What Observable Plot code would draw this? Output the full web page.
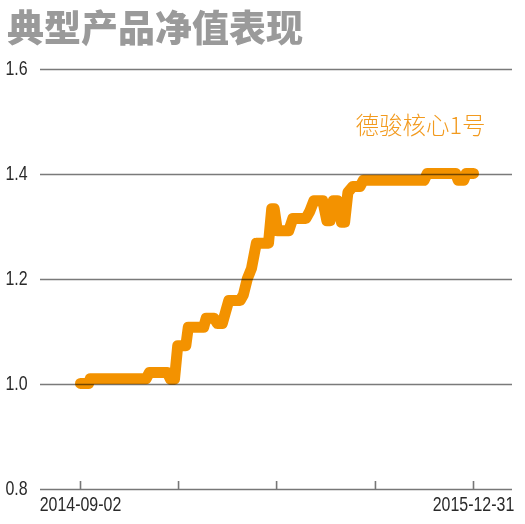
<!DOCTYPE html>
<html><head><meta charset="utf-8">
<script src="https://cdn.jsdelivr.net/npm/d3@7"></script>
<script src="https://cdn.jsdelivr.net/npm/@observablehq/plot@0.6"></script>
<style>
body{margin:0;background:#fff;}
#title{height:48px;padding-top:2px;padding-left:7px;font:900 37px/48px "Noto Sans CJK SC",sans-serif;color:#9a9a9a;white-space:nowrap;}
#chart svg{display:block;}
</style></head><body>
<div id="title"></div>
<div id="chart"></div>
<script>
const titleText = "典型产品净值表现";
const seriesName = "德骏核心1号";
const dates = [
  "2014-09-02","2014-09-12","2014-09-14","2014-11-22","2014-11-26","2014-12-18",
  "2014-12-22","2014-12-27","2014-12-31","2015-01-10","2015-01-13","2015-02-01",
  "2015-02-04","2015-02-14","2015-02-18","2015-02-24","2015-03-04","2015-03-18",
  "2015-03-22","2015-03-27","2015-04-01","2015-04-07","2015-04-22","2015-04-26",
  "2015-04-29","2015-05-03","2015-05-17","2015-05-22","2015-06-07","2015-06-12",
  "2015-06-17","2015-06-28","2015-07-03","2015-07-07","2015-07-11","2015-07-16",
  "2015-07-21","2015-07-25","2015-07-29","2015-08-04","2015-08-13","2015-08-17",
  "2015-10-31","2015-11-04","2015-12-09","2015-12-12","2015-12-19","2015-12-22",
  "2015-12-31"
];
const values = [
  1.002,1.002,1.011,1.011,1.023,1.023,
  1.010,1.010,1.074,1.074,1.109,1.109,
  1.126,1.126,1.116,1.116,1.160,1.160,
  1.171,1.202,1.221,1.269,1.269,1.335,
  1.335,1.293,1.293,1.316,1.316,1.330,
  1.350,1.350,1.312,1.312,1.350,1.350,
  1.309,1.309,1.366,1.377,1.377,1.389,
  1.389,1.402,1.402,1.389,1.389,1.402,
  1.402
];
const yTicks = [0.8, 1.0, 1.2, 1.4, 1.6];
const xTickDates = ["2014-09-02","2015-01-01","2015-05-02","2015-09-01","2015-12-31"];
const xTickLabels = ["2014-09-02","","","","2015-12-31"];

const lineColor = "#F39200";
const labelColor = "#F29A1E";

const data = dates.map((d, i) => ({date: new Date(d), value: values[i]}));
const xTicks = xTickDates.map(d => new Date(d));
const labelMap = new Map(xTicks.map((d, i) => [+d, xTickLabels[i]]));

document.getElementById("title").textContent = titleText;

const chart = Plot.plot({
  width: 525, height: 474,
  marginTop: 19, marginBottom: 35, marginLeft: 40, marginRight: 13,
  style: {fontFamily: '"Liberation Sans Narrow","Liberation Sans",sans-serif', fontSize: "21px", color: "#2a2a2a", background: "#fff"},
  x: {type: "utc", domain: [data[0].date, data[data.length - 1].date], insetLeft: 40, insetRight: 39},
  y: {domain: [0.8, 1.6]},
  marks: [
    Plot.line(data, {x: "date", y: "value", stroke: lineColor, strokeWidth: 11, strokeLinejoin: "round", strokeLinecap: "round"}),
    Plot.ruleY(yTicks.slice(1), {stroke: "#7a7a7a", strokeWidth: 1.6, mixBlendMode: "multiply"}),
    Plot.ruleY([0.8], {stroke: "#777", strokeWidth: 1.6}),
    Plot.axisY({ticks: yTicks, tickSize: 0, tickPadding: 0, textAnchor: "start", dx: -35, dy: -1, tickFormat: d => d.toFixed(1), label: null}),
    Plot.axisX({ticks: xTicks, tickSize: 8, dy: -8, stroke: "#777", strokeWidth: 1.6, tickFormat: () => "", label: null}),
    Plot.axisX({ticks: xTicks, tickSize: 0, tickPadding: 7, tickFormat: d => labelMap.get(+d), label: null}),
    Plot.text([data[data.length - 1]], {x: "date", y: "value", text: () => seriesName, textAnchor: "end", dx: 12, dy: -47, fill: labelColor, fontSize: 23.5, fontFamily: "Noto Sans CJK SC", fontWeight: 300})
  ]
});
document.getElementById("chart").appendChild(chart);

// condensed look for the numeric tick labels (horizontal squeeze inside a wrapper group)
const squeeze = 0.76;
const SVGNS = "http://www.w3.org/2000/svg";
function condense(n) {
  const g = document.createElementNS(SVGNS, "g");
  let gt = n.getAttribute("transform") || "";
  const x = n.getAttribute("x");
  if (x != null && x !== "" && !isNaN(+x)) { gt += ` translate(${x},0)`; n.setAttribute("x", "0"); }
  if (gt) g.setAttribute("transform", gt);
  n.parentNode.insertBefore(g, n);
  g.appendChild(n);
  n.setAttribute("transform", `scale(${squeeze},1)`);
}
const labelNodes = d3.select(chart)
  .selectAll('g[aria-label="y-axis tick label"] text, g[aria-label="x-axis tick label"] text')
  .nodes().filter(n => n.textContent.length);
labelNodes.forEach(condense);
</script></body></html>
